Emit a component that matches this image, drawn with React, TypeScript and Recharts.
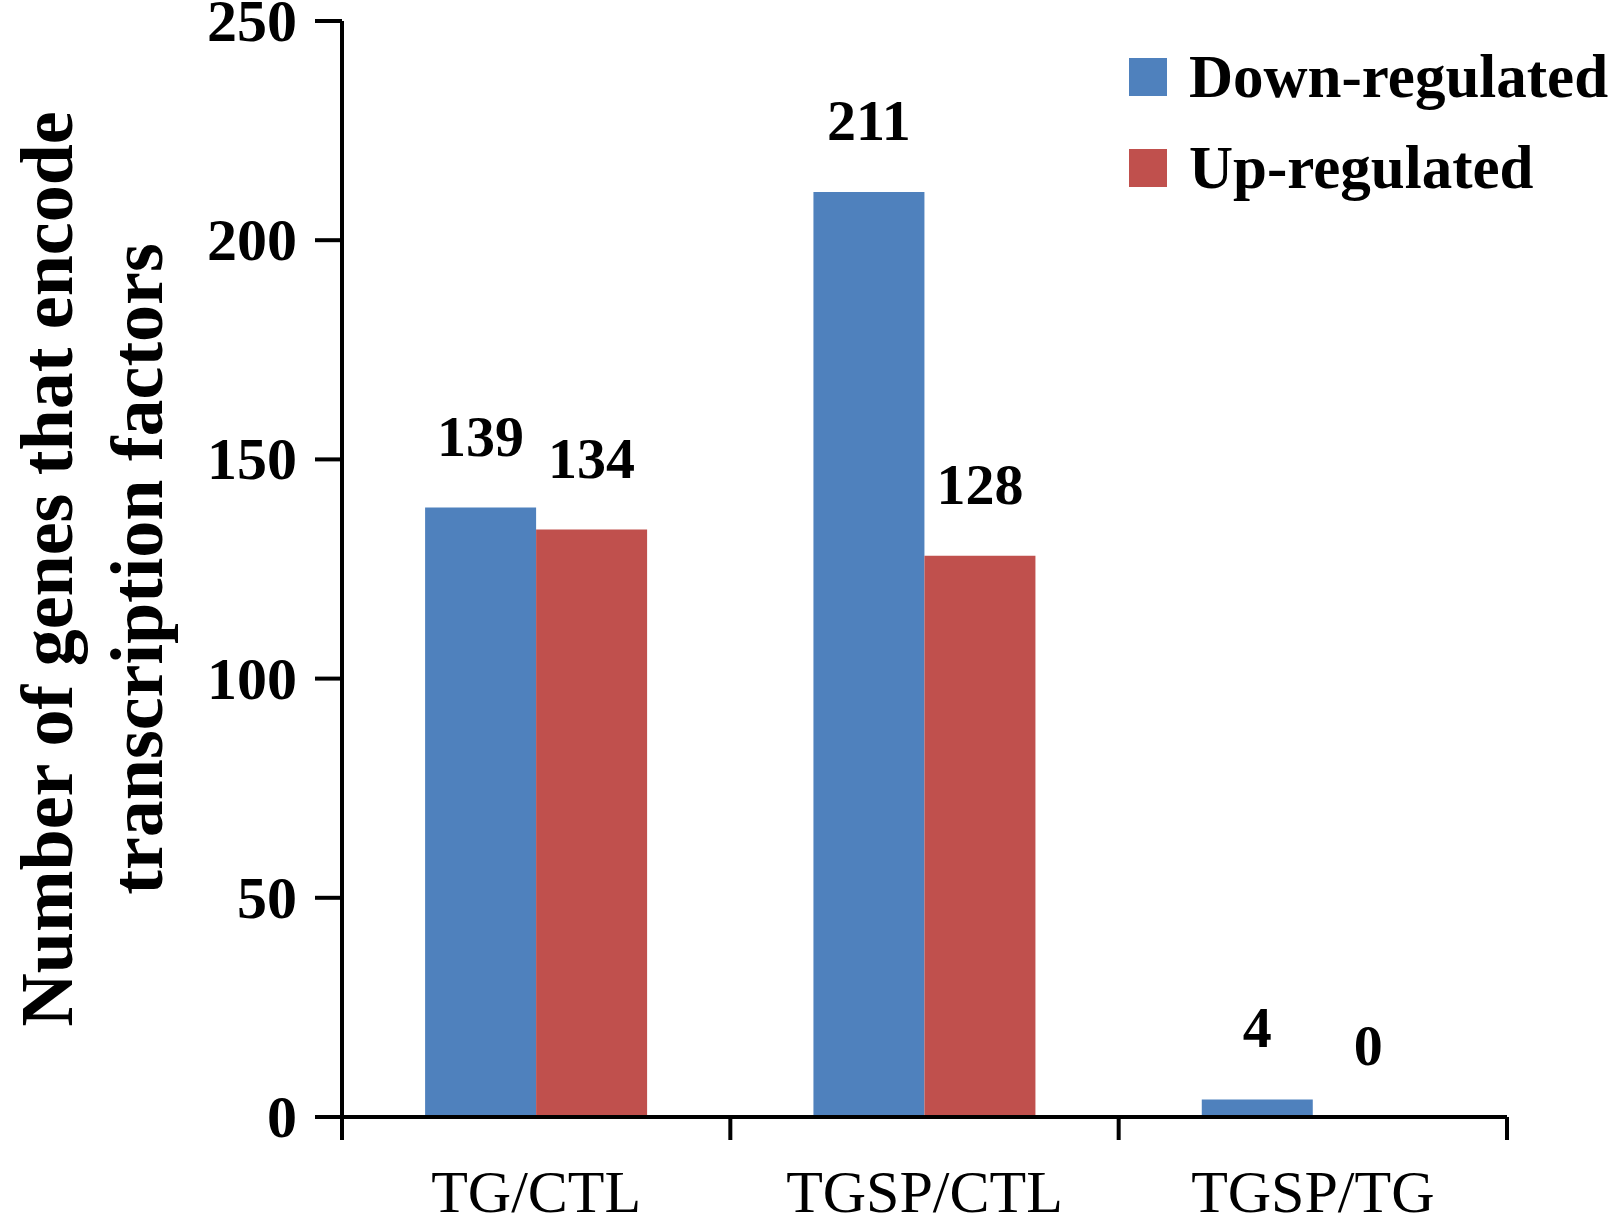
import { BarChart, Bar, XAxis, YAxis, Legend, LabelList } from "recharts";

const categories = ["TG/CTL", "TGSP/CTL", "TGSP/TG"];
const downRegulated = [139, 211, 4];
const upRegulated = [134, 128, 0];
const yTicks = [0, 50, 100, 150, 200, 250];

const data = categories.map((name, i) => ({
  name,
  down: downRegulated[i],
  up: upRegulated[i],
}));

const W = 1624;
const H = 1224;
const PLOT_LEFT = 342;
const PLOT_RIGHT = 1507;
const PLOT_TOP = 21;
const PLOT_BOTTOM = 1117;
const FONT = '"Liberation Serif", "Times New Roman", serif';
const BLUE = "#4F81BD";
const RED = "#C0504D";

const XTick = (props: any) => {
  const { x, y, payload, index } = props;
  const band = (PLOT_RIGHT - PLOT_LEFT) / categories.length;
  return (
    <g>
      <line x1={x - band / 2} x2={x - band / 2} y1={y} y2={y + 23} stroke="#000" strokeWidth={4} />
      {index === categories.length - 1 && (
        <line x1={x + band / 2} x2={x + band / 2} y1={y} y2={y + 23} stroke="#000" strokeWidth={4} />
      )}
      <text x={x} y={y + 95} textAnchor="middle" fontFamily={FONT} fontSize={60} fill="#000">
        {payload.value}
      </text>
    </g>
  );
};

const YTick = (props: any) => {
  const { x, y, payload } = props;
  return (
    <text x={x} y={y + 20} textAnchor="end" fontFamily={FONT} fontWeight="bold" fontSize={60} fill="#000">
      {payload.value}
    </text>
  );
};

const ValueLabel = (props: any) => {
  const { x, y, width, value } = props;
  return (
    <text x={x + width / 2} y={y - 52} textAnchor="middle" fontFamily={FONT} fontWeight="bold" fontSize={58} fill="#000">
      {value}
    </text>
  );
};

const YTitle = () => {
  const cy = (PLOT_TOP + PLOT_BOTTOM) / 2;
  return (
    <g fontFamily={FONT} fontWeight="bold" fontSize={74} fill="#000">
      <text x={72} y={cy} textAnchor="middle" transform={`rotate(-90, 72, ${cy})`}>
        Number of genes that encode
      </text>
      <text x={162} y={cy} textAnchor="middle" transform={`rotate(-90, 162, ${cy})`}>
        transcription factors
      </text>
    </g>
  );
};

const LegendContent = (props: any) => {
  const { payload } = props;
  return (
    <div style={{ fontFamily: FONT, fontWeight: "bold", fontSize: 61, color: "#000" }}>
      {(payload || []).map((entry: any) => (
        <div key={entry.value} style={{ display: "flex", alignItems: "center", height: 91 }}>
          <span style={{ width: 38, height: 38, background: entry.color, marginRight: 22, display: "inline-block" }} />
          <span style={{ whiteSpace: "nowrap" }}>{entry.value}</span>
        </div>
      ))}
    </div>
  );
};

export default function App() {
  return (
    <div style={{ position: "absolute", left: 0, top: 0, width: W, height: H, background: "#fff" }}>
      <BarChart
        width={W}
        height={H}
        data={data}
        margin={{ top: PLOT_TOP, right: W - PLOT_RIGHT, bottom: 0, left: 0 }}
        barCategoryGap="21.4%"
        barGap={0}
      >
        <XAxis
          dataKey="name"
          height={H - PLOT_BOTTOM}
          axisLine={{ stroke: "#000", strokeWidth: 4 }}
          tickLine={false}
          tickSize={0}
          tickMargin={0}
          tick={<XTick />}
          interval={0}
        />
        <YAxis
          width={PLOT_LEFT}
          domain={[0, 250]}
          ticks={yTicks}
          interval={0}
          tickSize={27}
          tickMargin={18}
          axisLine={{ stroke: "#000", strokeWidth: 4 }}
          tickLine={{ stroke: "#000", strokeWidth: 4 }}
          tick={<YTick />}
          label={{ content: () => <YTitle /> }}
        />
        <Legend
          layout="vertical"
          align="center"
          verticalAlign="middle"
          wrapperStyle={{ top: 31, left: 1129, width: 480, height: 182 }}
          content={<LegendContent />}
        />
        <Bar dataKey="down" name="Down-regulated" fill={BLUE} isAnimationActive={false}>
          <LabelList dataKey="down" content={<ValueLabel />} />
        </Bar>
        <Bar dataKey="up" name="Up-regulated" fill={RED} minPointSize={0.5} isAnimationActive={false}>
          <LabelList dataKey="up" content={<ValueLabel />} />
        </Bar>
      </BarChart>
    </div>
  );
}
